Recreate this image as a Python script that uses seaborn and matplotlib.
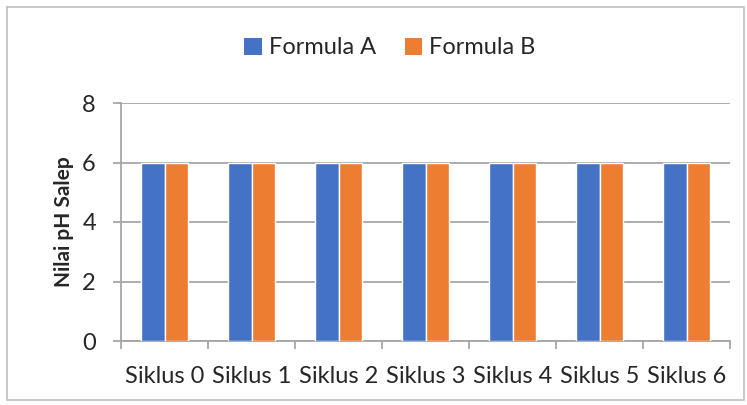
import pandas as pd
import seaborn as sns
import matplotlib.pyplot as plt
from matplotlib.patches import Rectangle, Patch
from matplotlib.ticker import FixedLocator

# data
siklus = ['Siklus 0', 'Siklus 1', 'Siklus 2', 'Siklus 3', 'Siklus 4', 'Siklus 5', 'Siklus 6']
formula_a = [6, 6, 6, 6, 6, 6, 6]
formula_b = [6, 6, 6, 6, 6, 6, 6]
series_names = ['Formula A', 'Formula B']
colors = ['#4472C4', '#ED7D31']

df = pd.DataFrame({
    'siklus': siklus * 2,
    'ph': formula_a + formula_b,
    'formula': [series_names[0]] * len(siklus) + [series_names[1]] * len(siklus),
})

sns.set_style('white')
plt.rcParams['font.family'] = ['Lato', 'DejaVu Sans']

fig = plt.figure(figsize=(7.47, 4.05), dpi=100)
ax = fig.add_axes([121 / 747, 1 - 341 / 405, (730 - 121) / 747, (341 - 103) / 405])

sns.barplot(data=df, x='siklus', y='ph', hue='formula', palette=colors, saturation=1,
            width=0.54, edgecolor='white', linewidth=1, ax=ax, legend=False, zorder=3)

grey = '#A6A6A6'
ax.set_ylim(0, 8)
ax.set_xlim(-0.5, len(siklus) - 0.5)
ax.set_yticks([0, 2, 4, 6, 8])
ax.yaxis.grid(True, color=grey, linewidth=1.3, zorder=0)
ax.set_axisbelow(True)

for s in ['top', 'right']:
    ax.spines[s].set_visible(False)
for s in ['left', 'bottom']:
    ax.spines[s].set_color(grey)
    ax.spines[s].set_linewidth(1.3)

ax.tick_params(axis='y', length=6, width=1.3, color=grey, pad=12, labelsize=17, direction='out', left=True)
ax.tick_params(axis='x', which='major', length=0, pad=18, labelsize=17)
ax.xaxis.set_minor_locator(FixedLocator([i - 0.5 for i in range(len(siklus) + 1)]))
ax.tick_params(axis='x', which='minor', length=5.5, width=1.3, color=grey, direction='out', bottom=True)

ax.set_xlabel('')
ax.set_ylabel('Nilai pH Salep', fontsize=15, fontweight='bold', labelpad=6)

handles = [Patch(facecolor=c, edgecolor='none') for c in colors]
fig.legend(handles, series_names, loc='center', bbox_to_anchor=(390 / 747, 1 - 48 / 405),
           ncol=2, frameon=False, fontsize=17, handlelength=0.75, handleheight=0.75,
           handletextpad=0.3, columnspacing=1.2)

fig.patches.append(Rectangle((7 / 747, 5 / 405), 737 / 747, 393 / 405, transform=fig.transFigure,
                             fill=False, edgecolor='#BFBFBF', linewidth=1.2))

fig.savefig('out.png', dpi=100)
